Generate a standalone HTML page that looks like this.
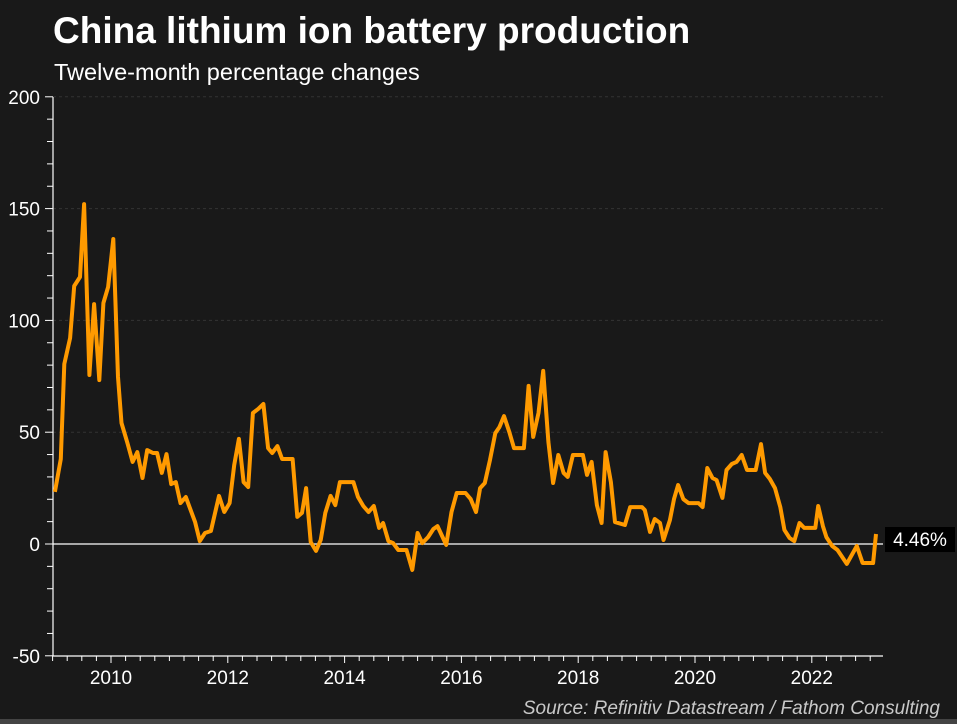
<!DOCTYPE html>
<html><head><meta charset="utf-8"><style>
html,body{margin:0;padding:0;background:#191919;}
body{width:957px;height:724px;overflow:hidden;font-family:"Liberation Sans",Arial,sans-serif;}
</style></head><body>
<svg id="chart" width="957" height="724" xmlns="http://www.w3.org/2000/svg" style="display:block">
<rect x="0" y="0" width="957" height="724" fill="#191919"/>
<rect x="0" y="719" width="957" height="5" fill="#444"/>
<text x="53" y="43" fill="#fff" font-size="37" font-weight="bold">China lithium ion battery production</text>
<text x="54" y="80" fill="#fff" font-size="23.5">Twelve-month percentage changes</text>
<text x="940" y="714" fill="#c8c8c8" font-size="19" font-style="italic" text-anchor="end">Source: Refinitiv Datastream / Fathom Consulting</text>
<g id="grid"></g><g id="axes"></g><g id="series"></g><g id="labels"></g>
</svg>
<script>
const years=[2009.04,2009.14,2009.20,2009.30,2009.37,2009.47,2009.54,2009.63,2009.71,2009.80,2009.87,2009.95,2010.04,2010.12,2010.18,2010.28,2010.37,2010.45,2010.54,2010.62,2010.72,2010.79,2010.87,2010.95,2011.03,2011.11,2011.19,2011.28,2011.44,2011.52,2011.61,2011.71,2011.85,2011.94,2012.03,2012.11,2012.19,2012.27,2012.35,2012.43,2012.52,2012.61,2012.69,2012.76,2012.85,2012.93,2013.11,2013.19,2013.27,2013.34,2013.42,2013.51,2013.59,2013.67,2013.76,2013.84,2013.92,2014.15,2014.23,2014.32,2014.41,2014.50,2014.59,2014.66,2014.75,2014.83,2014.92,2015.06,2015.16,2015.25,2015.33,2015.43,2015.52,2015.59,2015.74,2015.83,2015.92,2016.07,2016.16,2016.25,2016.32,2016.40,2016.49,2016.58,2016.65,2016.73,2016.82,2016.90,2017.07,2017.15,2017.23,2017.32,2017.40,2017.49,2017.57,2017.66,2017.75,2017.82,2017.91,2018.08,2018.15,2018.23,2018.32,2018.40,2018.47,2018.56,2018.63,2018.80,2018.89,2019.09,2019.14,2019.23,2019.31,2019.40,2019.46,2019.57,2019.64,2019.71,2019.80,2019.89,2020.06,2020.13,2020.21,2020.30,2020.37,2020.47,2020.54,2020.63,2020.71,2020.80,2020.89,2021.04,2021.13,2021.20,2021.28,2021.37,2021.46,2021.53,2021.62,2021.70,2021.79,2021.87,2022.06,2022.11,2022.19,2022.25,2022.35,2022.44,2022.60,2022.77,2022.87,2023.05,2023.10];
const values=[23.3,38.0,80.5,92.1,115.4,119.4,152.0,75.6,107.3,73.3,107.8,114.9,136.4,74.7,54.1,45.2,36.7,41.1,29.5,42.0,40.7,40.7,31.8,40.2,26.8,27.7,18.3,21.0,9.8,1.3,4.9,5.8,21.5,14.3,18.3,35.3,47.0,27.7,25.5,58.6,60.4,62.6,42.9,40.7,43.8,38.0,38.0,12.1,13.9,25.0,0.9,-3.1,1.8,13.9,21.5,17.4,27.7,27.7,21.0,17.0,14.3,17.0,7.2,9.4,1.3,0.4,-2.7,-2.7,-11.6,4.9,0.4,3.1,6.7,8.0,-0.4,14.3,22.8,22.8,20.1,14.3,25.0,27.3,37.6,49.6,52.3,57.2,50.1,42.9,42.9,70.7,47.9,58.6,77.4,45.6,27.3,39.8,31.8,30.0,39.8,39.8,30.9,36.7,17.4,9.4,41.1,27.7,9.8,8.5,16.5,16.5,15.2,5.4,11.2,9.4,1.8,10.7,20.1,26.4,20.1,18.3,18.3,16.5,34.0,29.5,28.6,20.6,33.1,35.8,36.7,39.8,33.1,33.1,44.7,31.8,29.1,25.0,16.5,6.3,2.7,1.3,9.4,7.2,7.2,17.0,8.0,3.1,-0.9,-2.7,-8.9,-0.9,-8.5,-8.5,4.46];
const yTicks=[-50,0,50,100,150,200];
const xTickLabels=[2010,2012,2014,2016,2018,2020,2022];
const lastLabel="4.46%";

const NS="http://www.w3.org/2000/svg";
const X0=52.6,PXY=58.4,Y0=544,PXV=2.236,LEFT=53,RIGHT=883,BOTTOM=656,TOP=97;
const xs=y=>X0+(y-2009)*PXY;
const ys=v=>Y0-v*PXV;
function mk(tag,attrs,parent,txt){const e=document.createElementNS(NS,tag);for(const k in attrs)e.setAttribute(k,attrs[k]);if(txt!==undefined)e.textContent=txt;document.getElementById(parent).appendChild(e);return e;}

yTicks.forEach(v=>{
  if(v!==-50&&v!==0){const g=mk('line',{x1:LEFT,x2:RIGHT,y1:ys(v),y2:ys(v),stroke:'#333','stroke-dasharray':'3,3','stroke-width':1},'grid');
  
  }
  const t=mk('text',{x:40,y:ys(v)+7,fill:'#fff','font-size':19,'text-anchor':'end'},'labels',String(v));
  
  
});
for(let v=-50;v<=200;v+=10){const l=mk('line',{x1:v%50===0?45:47,x2:LEFT,y1:ys(v),y2:ys(v),stroke:'#fff','stroke-width':1},'axes');
  
  }
for(let q=0;q<=57;q++){const yr=2009+q/4;const x=xs(yr);if(x>RIGHT)break;
  const major=(q%8===4);
  const l=mk('line',{x1:x,x2:x,y1:BOTTOM,y2:BOTTOM+(major?7:5),stroke:'#fff','stroke-width':1},'axes');
  
  }
xTickLabels.forEach(y=>{const t=mk('text',{x:xs(y),y:684,fill:'#fff','font-size':19,'text-anchor':'middle'},'labels',String(y));
  
  });
const ya=mk('line',{x1:LEFT,x2:LEFT,y1:TOP,y2:BOTTOM,stroke:'#fff','stroke-width':1.2},'axes');


const xa=mk('line',{x1:LEFT,x2:RIGHT,y1:BOTTOM,y2:BOTTOM,stroke:'#fff','stroke-width':1.2},'axes');


const zl=mk('line',{x1:LEFT,x2:RIGHT,y1:ys(0),y2:ys(0),stroke:'#fff','stroke-width':1.2},'axes');



const d=years.map((y,i)=>(i?'L':'M')+xs(y).toFixed(1)+','+ys(values[i]).toFixed(1)).join(' ');
const p=mk('path',{d:d,fill:'none',stroke:'#ff9a00','stroke-width':4,'stroke-linejoin':'round'},'series');



const lv=values[values.length-1];
const r=mk('rect',{x:885,y:ys(lv)-7,width:70,height:25,fill:'#000'},'labels');


const lt=mk('text',{x:920,y:ys(lv)+12,fill:'#fff','font-size':19,'text-anchor':'middle'},'labels',lastLabel);


</script>
</body></html>
